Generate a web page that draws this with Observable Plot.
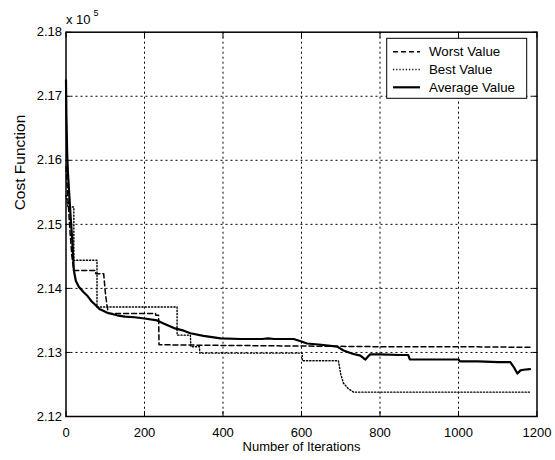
<!DOCTYPE html>
<html><head><meta charset="utf-8">
<script src="https://cdn.jsdelivr.net/npm/d3@7"></script>
<script src="https://cdn.jsdelivr.net/npm/@observablehq/plot@0.6"></script>
<style>
html,body{margin:0;padding:0;background:#fff;}
#chart svg{display:block;}
</style></head><body><div id="chart"></div>
<script>
// ---- data (cost values in units of 10^5) ----
const xTicks = [0, 200, 400, 600, 800, 1000, 1200];
const yTicks = [2.12, 2.13, 2.14, 2.15, 2.16, 2.17, 2.18];
const seriesNames = ["Worst Value", "Best Value", "Average Value"];

const worstIter = [0, 3, 6, 10, 15, 20, 75, 76, 96, 100, 104, 108, 228, 229, 236, 237, 400, 600, 800, 1000, 1182];
const worstVal  = [2.1590, 2.1560, 2.1530, 2.1490, 2.1450, 2.1428, 2.1428, 2.1423, 2.1423, 2.1395, 2.1375, 2.1361, 2.1361, 2.1358, 2.1358, 2.1312, 2.1311, 2.1310, 2.1309, 2.1309, 2.1308];

const bestIter = [0, 5, 20, 20, 79, 79, 283, 283, 317, 318, 340, 341, 602, 602, 694, 700, 707, 720, 733, 1182];
const bestVal  = [2.1545, 2.1527, 2.1527, 2.1444, 2.1444, 2.1371, 2.1371, 2.1327, 2.1327, 2.1309, 2.1309, 2.1299, 2.1299, 2.1287, 2.1287, 2.1266, 2.1252, 2.1243, 2.1238, 2.1238];

const avgIter = [0, 1, 3, 5, 8, 12, 16, 20, 25, 33, 45, 55, 65, 75, 85, 95, 105, 130, 150, 175, 200, 232, 250, 275, 300, 317, 350, 394, 445, 500, 515, 530, 580, 600, 614, 650, 691, 707, 730, 750, 758, 763, 770, 775, 800, 850, 872, 876, 950, 1000, 1004, 1050, 1100, 1132, 1140, 1150, 1158, 1166, 1182];
const avgVal  = [2.1725, 2.1670, 2.1610, 2.1580, 2.1550, 2.1510, 2.1475, 2.1428, 2.1412, 2.1402, 2.1394, 2.1388, 2.1380, 2.1374, 2.1368, 2.1365, 2.1362, 2.1358, 2.1356, 2.1355, 2.1353, 2.1350, 2.1345, 2.1338, 2.1334, 2.1330, 2.1326, 2.1322, 2.1321, 2.1321, 2.1322, 2.1321, 2.1321, 2.1317, 2.1314, 2.1312, 2.1309, 2.1303, 2.1298, 2.1295, 2.1291, 2.1289, 2.1294, 2.1297, 2.1297, 2.1296, 2.1296, 2.1289, 2.1289, 2.1289, 2.1286, 2.1286, 2.1285, 2.1285, 2.1278, 2.1267, 2.1272, 2.1273, 2.1274];

// ---- build ----
const font = "'Liberation Sans', Arial, Helvetica, sans-serif";
const toRows = (name, its, vals) => its.map((it, i) => ({series: name, iter: it, cost: vals[i]}));
const worst = toRows(seriesNames[0], worstIter, worstVal);
const best = toRows(seriesNames[1], bestIter, bestVal);
const avg = toRows(seriesNames[2], avgIter, avgVal);

const styles = [
  {strokeWidth: 1.5, strokeDasharray: "5,3"},
  {strokeWidth: 1.4, strokeDasharray: "1.2,2"},
  {strokeWidth: 2.2, strokeDasharray: null}
];
const gridStyle = {stroke: "black", strokeOpacity: 1, strokeWidth: 1, strokeDasharray: "2,3"};

const plot = Plot.plot({
  width: 555, height: 460,
  marginLeft: 65.5, marginRight: 18.5, marginTop: 31.7, marginBottom: 44,
  style: {fontFamily: font, fontSize: "13px", color: "black", background: "white"},
  x: {domain: [0, 1200]},
  y: {domain: [2.12, 2.18]},
  marks: [
    Plot.gridX(xTicks.slice(1, -1), gridStyle),
    Plot.gridY(yTicks.slice(1, -1), gridStyle),
    Plot.line(worst, {x: "iter", y: "cost", stroke: "black", ...styles[0]}),
    Plot.line(best, {x: "iter", y: "cost", stroke: "black", ...styles[1]}),
    Plot.line(avg, {x: "iter", y: "cost", stroke: "black", ...styles[2]}),
    Plot.axisX(xTicks, {anchor: "bottom", tickSize: -5, tickPadding: 16, label: null, fontSize: 13, tickFormat: d3.format("d")}),
    Plot.axisY(yTicks, {anchor: "left", tickSize: -5, tickPadding: 9, label: null, fontSize: 13, tickFormat: d3.format(".2f")}),
    Plot.axisX(xTicks, {anchor: "top", tickSize: -5, fill: "none", label: null}),
    Plot.axisY(yTicks, {anchor: "right", tickSize: -5, fill: "none", label: null}),
    Plot.frame({stroke: "black", strokeWidth: 1.5}),
    Plot.text(["Number of Iterations"], {frameAnchor: "bottom", lineAnchor: "middle", dy: 30, fontSize: 13}),
    Plot.text(["Cost Function"], {frameAnchor: "left", rotate: -90, dx: -46, dy: -14, fontSize: 15.5}),
    Plot.text(["x 10"], {frameAnchor: "top-left", textAnchor: "start", lineAnchor: "bottom", dy: -8.4, fontSize: 13}),
    Plot.text(["5"], {frameAnchor: "top-left", textAnchor: "start", lineAnchor: "bottom", dx: 27.5, dy: -16.5, fontSize: 9})
  ]
});
document.getElementById("chart").appendChild(plot);

// ---- legend (box in the top-right corner of the axes) ----
const svg = d3.select(plot);
const lg = svg.append("g").attr("font-family", font).attr("font-size", 13.3).attr("text-anchor", "start");
lg.append("rect").attr("x", 386.7).attr("y", 38.3).attr("width", 140).attr("height", 60)
  .attr("fill", "white").attr("stroke", "black").attr("stroke-width", 1);
seriesNames.forEach((name, i) => {
  const yy = 51.7 + i * 17.8;
  const ln = lg.append("line").attr("x1", 393).attr("x2", 420).attr("y1", yy).attr("y2", yy)
    .attr("stroke", "black").attr("stroke-width", styles[i].strokeWidth);
  if (styles[i].strokeDasharray) ln.attr("stroke-dasharray", styles[i].strokeDasharray);
  lg.append("text").attr("x", 429).attr("y", yy).attr("dy", "0.35em").attr("fill", "black")
    .attr("text-anchor", "start").text(name);
});
</script>
</body></html>
